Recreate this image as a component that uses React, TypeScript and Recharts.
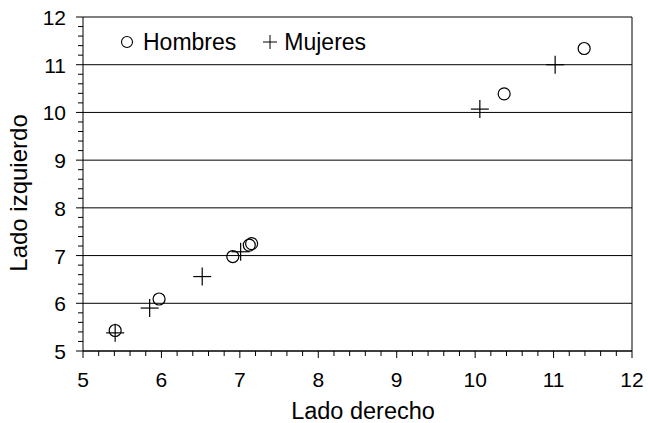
import React from 'react';
import { ScatterChart, Scatter, XAxis, YAxis, ReferenceLine, Legend, Label } from 'recharts';

const hombres = [
  { x: 5.41, y: 5.43 },
  { x: 5.97, y: 6.09 },
  { x: 6.91, y: 6.98 },
  { x: 7.12, y: 7.22 },
  { x: 7.15, y: 7.25 },
  { x: 10.37, y: 10.39 },
  { x: 11.39, y: 11.34 },
];

const mujeres = [
  { x: 5.41, y: 5.38 },
  { x: 5.85, y: 5.9 },
  { x: 6.52, y: 6.56 },
  { x: 7.01, y: 7.08 },
  { x: 10.06, y: 10.07 },
  { x: 11.02, y: 11.0 },
];

const majorTicks = [5, 6, 7, 8, 9, 10, 11, 12];

// minor ticks every 0.2 between the majors
const minorTicks: number[] = [];
majorTicks.forEach((m, i) => {
  if (i === majorTicks.length - 1) {
    minorTicks.push(m);
    return;
  }
  for (let k = 0; k < 5; k++) minorTicks.push(Math.round((m + k * 0.2) * 10) / 10);
});

const FONT = '"Liberation Sans", Arial, sans-serif';
const isMajor = (v: number) => Math.abs(v - Math.round(v)) < 1e-6;

const XTick = (props: any) => {
  const { x, y, payload } = props;
  const major = isMajor(payload.value);
  return (
    <g>
      <line x1={x} x2={x} y1={y} y2={y + (major ? 7 : 5)} stroke="#000" strokeWidth={1} />
      {major && (
        <text x={x} y={y + 36} textAnchor="middle" fontSize={21} fontFamily={FONT} fill="#000">
          {payload.value}
        </text>
      )}
    </g>
  );
};

const YTick = (props: any) => {
  const { x, y, payload } = props;
  const major = isMajor(payload.value);
  return (
    <g>
      <line x1={x} x2={x - (major ? 7 : 5)} y1={y} y2={y} stroke="#000" strokeWidth={1} />
      {major && (
        <text x={x - 17} y={y + 8} textAnchor="end" fontSize={21} fontFamily={FONT} fill="#000">
          {payload.value}
        </text>
      )}
    </g>
  );
};

const CircleShape = (props: any) => (
  <circle cx={props.cx} cy={props.cy} r={6} fill="none" stroke="#000" strokeWidth={1.2} />
);

const PlusShape = (props: any) => {
  const { cx, cy } = props;
  return (
    <g>
      <line x1={cx - 9} x2={cx + 9} y1={cy} y2={cy} stroke="#000" strokeWidth={1.2} />
      <line x1={cx} x2={cx} y1={cy - 9} y2={cy + 9} stroke="#000" strokeWidth={1.2} />
    </g>
  );
};

const LegendBox = () => (
  <div
    style={{
      display: 'flex',
      alignItems: 'center',
      fontFamily: FONT,
      fontSize: 23,
      lineHeight: '26px',
      color: '#000',
      whiteSpace: 'nowrap',
    }}
  >
    <svg width={14} height={14} style={{ marginRight: 9 }}>
      <circle cx={7} cy={7} r={5.5} fill="none" stroke="#000" strokeWidth={1.1} />
    </svg>
    <span>Hombres</span>
    <svg width={16} height={16} style={{ marginLeft: 26, marginRight: 6 }}>
      <line x1={1} x2={15} y1={8} y2={8} stroke="#000" strokeWidth={1} />
      <line x1={8} x2={8} y1={1} y2={15} stroke="#000" strokeWidth={1} />
    </svg>
    <span>Mujeres</span>
  </div>
);

export default function App() {
  return (
    <div style={{ position: 'fixed', left: 0, top: 0, background: '#fff' }}>
      <ScatterChart width={648} height={423} margin={{ top: 17, right: 16, bottom: 0, left: 0 }}>
        {majorTicks.map((v) => (
          <ReferenceLine key={'h' + v} y={v} stroke="#000" strokeWidth={1} />
        ))}
        <ReferenceLine x={12} stroke="#000" strokeWidth={1} />
        <XAxis
          type="number"
          dataKey="x"
          domain={[5, 12]}
          ticks={minorTicks}
          interval={0}
          height={72}
          tickSize={0}
          tickMargin={0}
          tickLine={false}
          stroke="#000"
          tick={<XTick />}
        >
          <Label
            content={() => (
              <text x={363} y={419} textAnchor="middle" fontSize={23.5} fontFamily={FONT} fill="#000">
                Lado derecho
              </text>
            )}
          />
        </XAxis>
        <YAxis
          type="number"
          dataKey="y"
          domain={[5, 12]}
          ticks={minorTicks}
          interval={0}
          width={83}
          tickSize={0}
          tickMargin={0}
          tickLine={false}
          stroke="#000"
          tick={<YTick />}
        >
          <Label
            content={() => (
              <text
                x={27}
                y={193}
                transform="rotate(-90 27 193)"
                textAnchor="middle"
                fontSize={24}
                fontFamily={FONT}
                fill="#000"
              >
                Lado izquierdo
              </text>
            )}
          />
        </YAxis>
        <Legend
          layout="vertical"
          align="center"
          verticalAlign="middle"
          content={<LegendBox />}
          wrapperStyle={{ position: 'absolute', left: 120, top: 29, width: 'auto' }}
        />
        <Scatter name="Hombres" data={hombres} shape={<CircleShape />} isAnimationActive={false} />
        <Scatter name="Mujeres" data={mujeres} shape={<PlusShape />} isAnimationActive={false} />
      </ScatterChart>
    </div>
  );
}
